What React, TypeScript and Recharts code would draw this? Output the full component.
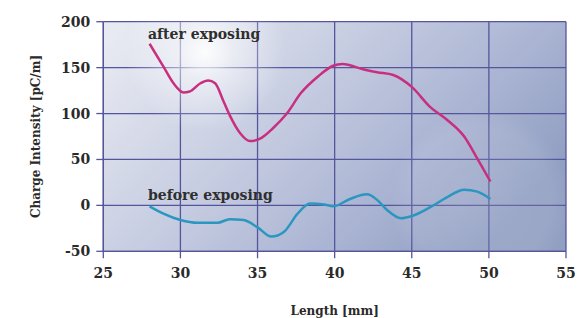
import React from 'react';
import { LineChart, Line, XAxis, YAxis, CartesianGrid, ReferenceArea, ReferenceDot } from 'recharts';

const xTicks = [25, 30, 35, 40, 45, 50, 55];
const yTicks = [-50, 0, 50, 100, 150, 200];

const afterX = [28.0, 28.9, 29.55, 30.2, 30.6, 31.3, 31.8, 32.25, 32.8, 33.2, 33.9, 34.5, 35.2, 36.0, 36.9, 37.8, 38.9, 39.9, 40.5, 41.9, 42.75, 43.8, 45.0, 46.2, 47.3, 48.4, 49.25, 50.1];
const afterY = [176, 151, 133, 123, 124, 133, 136, 133, 113, 98, 78, 70, 73, 84, 100, 122, 140, 152, 154, 148, 145, 142, 129, 107, 93, 75, 51, 26];

const beforeX = [28.0, 28.9, 30.0, 31.1, 32.4, 33.2, 34.1, 35.0, 35.9, 36.7, 37.6, 38.4, 39.3, 39.9, 41.0, 42.1, 42.75, 43.4, 44.3, 45.1, 46.2, 47.3, 48.4, 49.25, 50.1];
const beforeY = [-1, -9, -16, -19, -19, -15, -16, -24, -34, -29, -9, 2, 1, -1, 7, 12, 6, -5, -14, -11, -2, 9, 17, 15, 7];

const afterData = afterX.map((x, i) => ({ x, y: afterY[i] }));
const beforeData = beforeX.map((x, i) => ({ x, y: beforeY[i] }));

const serif = '"DejaVu Serif", serif';
const gridColor = '#55559c';

const SeriesLabel = (text: string) => (props: any) => {
  const vb = props.viewBox || {};
  return (
    <text x={vb.x} y={vb.y} dominantBaseline="central" fontFamily={serif} fontWeight="bold" fontSize={14} fill="#2e2e2e">
      {text}
    </text>
  );
};

export default function App() {
  return (
    <div style={{ position: 'absolute', left: 0, top: 0, width: 578, height: 318 }}>
      <svg width={0} height={0} style={{ position: 'absolute' }}>
        <defs>
          <linearGradient id="bgGrad" x1="0" y1="0.1" x2="1" y2="0.6">
            <stop offset="0%" stopColor="#e8eaf2" />
            <stop offset="40%" stopColor="#c8cee2" />
            <stop offset="75%" stopColor="#a9b3d2" />
            <stop offset="100%" stopColor="#919fc2" />
          </linearGradient>
          <radialGradient id="glare" gradientUnits="userSpaceOnUse" cx={205} cy={52} r={80}>
            <stop offset="0%" stopColor="#ffffff" stopOpacity={0.95} />
            <stop offset="35%" stopColor="#ffffff" stopOpacity={0.5} />
            <stop offset="100%" stopColor="#ffffff" stopOpacity={0} />
          </radialGradient>
          <radialGradient id="flare" gradientUnits="userSpaceOnUse" cx={480} cy={200} r={90}>
            <stop offset="0%" stopColor="#ffffff" stopOpacity={0.12} />
            <stop offset="80%" stopColor="#ffffff" stopOpacity={0.08} />
            <stop offset="100%" stopColor="#ffffff" stopOpacity={0} />
          </radialGradient>
        </defs>
      </svg>
      <LineChart width={578} height={318} margin={{ top: 21.7, right: 12, bottom: 26.7, left: 43.3 }}>
        <CartesianGrid stroke={gridColor} strokeWidth={1.3} fill="url(#bgGrad)" fillOpacity={1} />
        <ReferenceArea x1={25} x2={55} y1={-50} y2={200} fill="url(#glare)" fillOpacity={1} stroke="none" />
        <ReferenceArea x1={25} x2={55} y1={-50} y2={200} fill="url(#flare)" fillOpacity={1} stroke="none" />
        <XAxis
          type="number"
          dataKey="x"
          domain={[25, 55]}
          ticks={xTicks}
          allowDataOverflow
          height={40}
          tickSize={7}
          tickMargin={10}
          stroke={gridColor}
          strokeWidth={1.3}
          tick={{ fontFamily: serif, fontWeight: 'bold', fontSize: 14, fill: '#2a2a2a' }}
          label={{ value: 'Length [mm]', position: 'bottom', offset: 15, style: { fontFamily: serif, fontWeight: 'bold', fontSize: 12, fill: '#2a2a2a' } }}
        />
        <YAxis
          type="number"
          domain={[-50, 200]}
          ticks={yTicks}
          allowDataOverflow
          width={60}
          tickSize={7}
          tickMargin={6}
          stroke={gridColor}
          strokeWidth={1.3}
          tick={{ fontFamily: serif, fontWeight: 'bold', fontSize: 14, fill: '#2a2a2a' }}
          label={{ value: 'Charge Intensity [pC/m]', angle: -90, position: 'insideLeft', offset: -8, style: { textAnchor: 'middle', fontFamily: serif, fontWeight: 'bold', fontSize: 12, fill: '#2a2a2a' } }}
        />
        <Line data={afterData} dataKey="y" type="monotone" stroke="#c8307f" strokeWidth={2.5} dot={false} isAnimationActive={false} />
        <Line data={beforeData} dataKey="y" type="monotone" stroke="#2b97c0" strokeWidth={2.5} dot={false} isAnimationActive={false} />
        <ReferenceDot x={27.9} y={187} r={0} stroke="none" fill="none" label={SeriesLabel('after exposing')} />
        <ReferenceDot x={27.9} y={11} r={0} stroke="none" fill="none" label={SeriesLabel('before exposing')} />
      </LineChart>
    </div>
  );
}
